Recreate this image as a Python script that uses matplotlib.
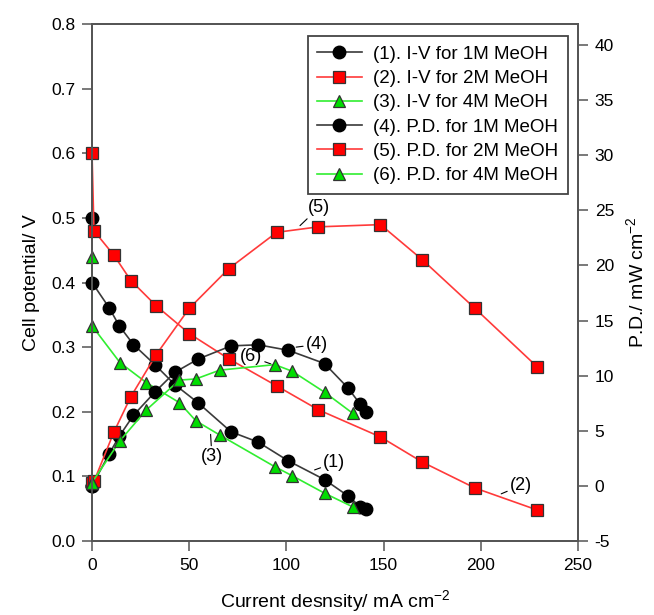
import matplotlib.pyplot as plt

plt.rcParams['font.family'] = ['Liberation Sans', 'DejaVu Sans']
plt.rcParams['mathtext.default'] = 'regular'
plt.rcParams['axes.unicode_minus'] = False

# Data
# current density (mA cm-2)
j_1m = [0, 0, 8.8, 14, 21.3, 32.3, 42.6, 54.5, 71.5, 85.5, 101, 119.6, 131.6, 138, 140.7]
v_1m = [0.50, 0.40, 0.361, 0.333, 0.304, 0.273, 0.242, 0.214, 0.169, 0.153, 0.124, 0.095, 0.070, 0.053, 0.050]
pd_1m = [0, 0, 2.9, 4.5, 6.4, 8.5, 10.3, 11.5, 12.7, 12.8, 12.3, 11.1, 8.9, 7.4, 6.7]

j_2m = [0, 1, 11.3, 20, 33, 50, 70.3, 95, 116.5, 148.4, 170, 197, 229]
v_2m = [0.60, 0.48, 0.442, 0.403, 0.364, 0.321, 0.282, 0.240, 0.203, 0.161, 0.122, 0.082, 0.048]
pd_2m = [0.3, 0.4, 4.9, 8.1, 11.9, 16.1, 19.7, 23.0, 23.5, 23.7, 20.5, 16.1, 10.8]

j_4m = [0, 0, 14.4, 28, 45, 53.4, 65.7, 94, 103, 119.6, 134]
v_4m = [0.44, 0.333, 0.276, 0.245, 0.214, 0.186, 0.164, 0.115, 0.101, 0.074, 0.053]
pd_4m = [0.3, 0.3, 4.1, 6.9, 9.6, 9.7, 10.5, 11.0, 10.4, 8.5, 6.6]

labels = ["(1). I-V for 1M MeOH", "(2). I-V for 2M MeOH", "(3). I-V for 4M MeOH",
          "(4). P.D. for 1M MeOH", "(5). P.D. for 2M MeOH", "(6). P.D. for 4M MeOH"]

blk = dict(color="#3a3a3a", marker="o", mfc="black", mec="black", ms=9, lw=1.2)
red = dict(color="#ff3a3a", marker="s", mfc="#ff0000", mec="#333333", ms=8, lw=1.2, mew=0.9)
grn = dict(color="#30ee30", marker="^", mfc="#00dd00", mec="#333333", ms=9, lw=1.2, mew=0.9)

fig = plt.figure(figsize=(6.54, 6.15), dpi=100)
ax = fig.add_axes([0.1407, 0.1203, 0.7431, 0.8407])
ax2 = ax.twinx()

h1, = ax.plot(j_1m, v_1m, clip_on=False, **blk)
h2, = ax.plot(j_2m, v_2m, clip_on=False, **red)
h3, = ax.plot(j_4m, v_4m, clip_on=False, **grn)
h4, = ax2.plot(j_1m, pd_1m, clip_on=False, **blk)
h5, = ax2.plot(j_2m, pd_2m, clip_on=False, **red)
h6, = ax2.plot(j_4m, pd_4m, clip_on=False, **grn)

ax.set_xlim(0, 250)
ax.set_ylim(0, 0.8)
ax2.set_ylim(-5, 41.9)
ax.set_xticks([0, 50, 100, 150, 200, 250])
ax.set_yticks([0.0, 0.1, 0.2, 0.3, 0.4, 0.5, 0.6, 0.7, 0.8])
ax.set_yticklabels(["0.0", "0.1", "0.2", "0.3", "0.4", "0.5", "0.6", "0.7", "0.8"])
ax2.set_yticks([-5, 0, 5, 10, 15, 20, 25, 30, 35, 40])

for a in (ax, ax2):
    for s in a.spines.values():
        s.set_color("#555555")
        s.set_linewidth(1.3)
    a.tick_params(direction="out", length=7, width=1.1, color="#555555", labelsize=12.5, pad=5)

ax.set_xlabel("Current desnsity/ mA cm$^{-2}$", fontsize=14, labelpad=11)
ax.set_ylabel("Cell potential/ V", fontsize=14, labelpad=8)
ax2.set_ylabel("P.D./ mW cm$^{-2}$", fontsize=14, labelpad=8)

# curve labels with short leader lines
lead = dict(arrowstyle="-", color="black", lw=0.8, shrinkA=0, shrinkB=0)
ax.annotate("(1)", xy=(114.5, 0.110), xytext=(119, 0.121), fontsize=13, va="center", arrowprops=lead)
ax.annotate("(2)", xy=(210.5, 0.073), xytext=(215, 0.086), fontsize=13, va="center", arrowprops=lead)
ax.annotate("(3)", xy=(61, 0.165), xytext=(56, 0.130), fontsize=13, va="center", arrowprops=lead)
ax.annotate("(4)", xy=(105, 0.300), xytext=(110, 0.304), fontsize=13, va="center", arrowprops=lead)
ax.annotate("(5)", xy=(107, 0.488), xytext=(111, 0.516), fontsize=13, va="center", arrowprops=lead)
ax.annotate("(6)", xy=(92, 0.274), xytext=(76, 0.285), fontsize=13, va="center", arrowprops=lead)

leg = ax2.legend([h1, h2, h3, h4, h5, h6], labels, loc="upper right",
                 bbox_to_anchor=(0.998, 0.994), fontsize=13.5, handlelength=2.4,
                 fancybox=False, framealpha=1, edgecolor="#444444",
                 borderpad=0.5, labelspacing=0.38, handletextpad=0.6)
leg.get_frame().set_linewidth(1.3)

fig.savefig("out.png", dpi=100)
